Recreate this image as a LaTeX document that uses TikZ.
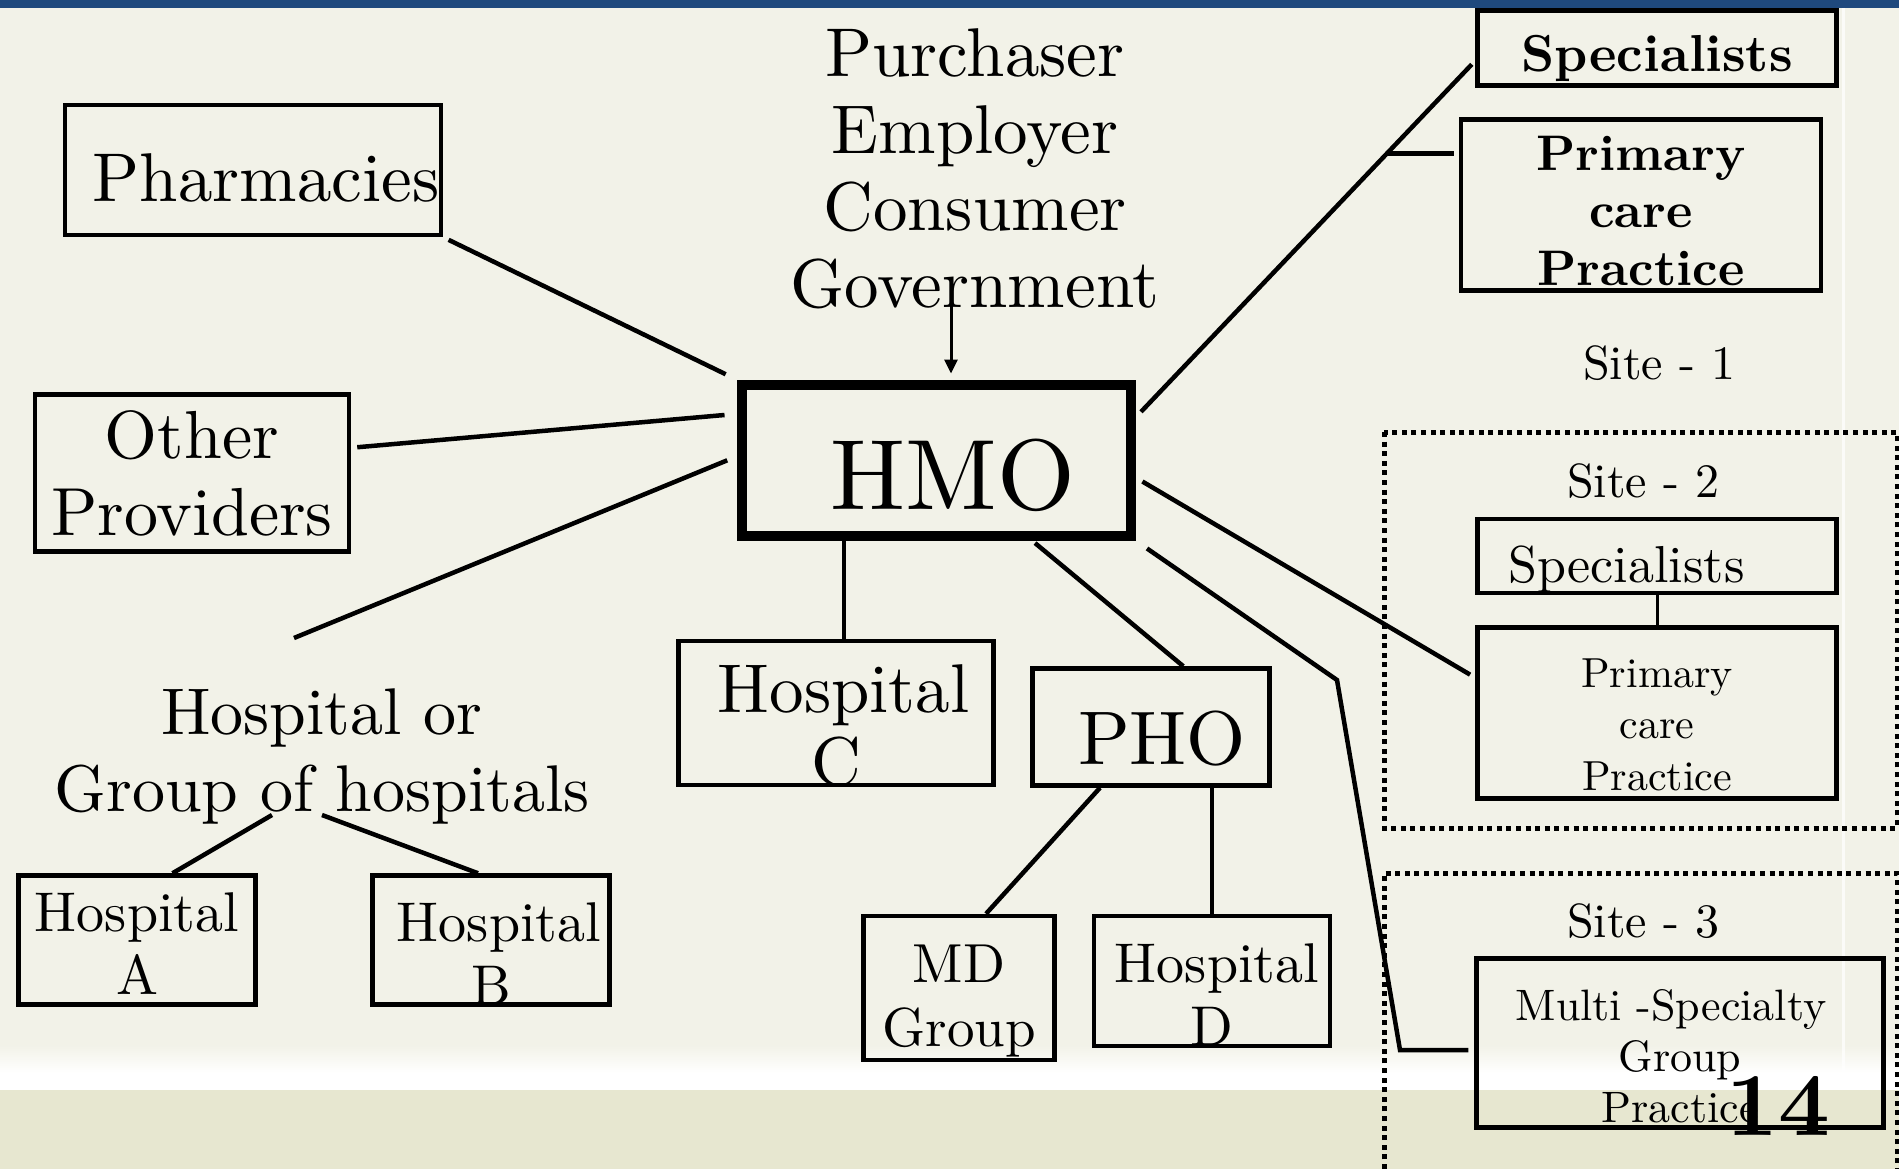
\documentclass[tikz,border=0pt]{standalone}
\usepackage{fontspec}
\setmainfont{lmroman10-regular.otf}[BoldFont=lmroman10-bold.otf]
\usetikzlibrary{shapes,arrows.meta,positioning,calc}

\definecolor{pagebg}{RGB}{242,242,232}
\definecolor{footbg}{RGB}{231,231,208}
\definecolor{topbar}{RGB}{31,73,125}

\begin{document}
\begin{tikzpicture}[
    x=1pt, y=-1pt,
    box/.style={rectangle, draw, line width=4.5pt, inner sep=0pt, align=center},
    txt/.style={inner sep=0pt, align=center},
    base/.style={text height=#1, text depth=0pt},
    link/.style={line width=4.5pt},
    arrow/.style={-{Triangle[length=14pt,width=13pt]}, line width=3pt},
    site/.style={line width=5pt, dash pattern=on 5pt off 4.6pt},
    big/.style={font=\fontsize{69}{77}\selectfont},
    hosp/.style={font=\fontsize{56}{63}\selectfont},
    small/.style={font=\fontsize{44}{51}\selectfont}
]
\useasboundingbox (0,0) rectangle (1899,1169);

% slide background
\fill[pagebg] (0,0) rectangle (1899,1169);
\fill[topbar] (0,0) rectangle (1899,8);
\shade[top color=pagebg, bottom color=white] (0,1045) rectangle (1899,1073);
\fill[white] (0,1073) rectangle (1899,1090);
\fill[footbg] (0,1090) rectangle (1899,1169);
\draw[white, line width=3pt, opacity=0.7] (1843,8) -- (1843,1073);

% centre and buyers
\node[box, line width=10pt, minimum width=389pt, minimum height=151pt, base=98pt, font=\fontsize{100}{110}\selectfont] (hmo) at (936,460) {\hspace*{34pt}HMO};
\node[txt, big] (buyers) at (975,169) {Purchaser\\Employer\\Consumer\\Government};
\draw[arrow, shorten >=6pt] ([xshift=-24pt,yshift=18pt]buyers.south) -- ([xshift=-24pt]buyers.south |- hmo.north);

% left side
\node[box, big, minimum width=376pt, minimum height=130pt, base=64pt] (pharm) at (253,170) {\hspace*{26pt}Pharmacies};
\node[box, font=\fontsize{68}{77}\selectfont, minimum width=314pt, minimum height=157pt] (other) at (192,473) {Other\\Providers};
\node[txt, font=\fontsize{66}{77}\selectfont] (grp) at (322,756) {Hospital or\\Group of hospitals};
\node[box, hosp, minimum width=237pt, minimum height=129pt, base=108pt] (hospa) at (137,940) {Hospital\\A};
\node[box, hosp, minimum width=237pt, minimum height=129pt, base=128pt] (hospb) at (491,940) {\hspace*{16pt}Hospital\\B};
\coordinate (grpend) at (294,638);

\draw[link, shorten <=6pt, shorten >=12pt] (pharm.south east) -- (hmo.north west);
\draw[link, shorten <=6pt, shorten >=12pt] (other.9) -- (hmo.167);
\draw[link, shorten >=10pt] (grpend) -- (hmo.179);
\draw[link] ([xshift=-50pt,yshift=9pt]grp.south) -- (hospa.62);
\draw[link] ([yshift=9pt]grp.south) -- (hospb.101);

% below
\node[box, font=\fontsize{69}{73}\selectfont, minimum width=315pt, minimum height=144pt, base=144pt] (hospc) at (836,713) {\hspace*{15pt}Hospital\\C};
\node[box, font=\fontsize{76}{84}\selectfont, minimum width=237pt, minimum height=117pt, base=74pt] (pho) at (1151,727) {\hspace*{22pt}PHO};
\node[box, font=\fontsize{55}{64}\selectfont, minimum width=191pt, minimum height=144pt, base=116pt] (mdg) at (959,988) {MD\\Group};
\node[box, hosp, minimum width=236pt, minimum height=130pt, base=128pt] (hospd) at (1212,981) {\hspace*{10pt}Hospital\\D};

\draw[link] ([xshift=8pt]hospc.north) -- ([xshift=8pt]hospc.north |- hmo.south);
\draw[link, shorten <=4pt] (hmo.-40) -- (pho.62);
\draw[link] (pho.230) -- (mdg.70);
\draw[link] (hospd.north) -- (hospd.north |- pho.south);

% right side, site 1
\node[box, font=\fontsize{52}{60}\selectfont\bfseries, minimum width=359pt, minimum height=75pt, base=48pt] (spec1) at (1657,48) {Specialists};
\node[box, font=\fontsize{50}{57.5}\selectfont\bfseries, minimum width=360pt, minimum height=171pt, base=160pt] (prim1) at (1641,205) {Primary\\care\\Practice};
\node[txt, font=\fontsize{48}{56}\selectfont, below=53pt of prim1, xshift=18pt] (site1) {Site - 1};

\draw[link, shorten <=8pt, shorten >=5pt] (hmo.12) -- (spec1.184) coordinate[pos=0.74] (fork);
\draw[link, shorten >=5pt] (fork) -- (fork -| prim1.west);

% site 2
\node[box, font=\fontsize{52}{60}\selectfont, text width=297pt, align=left, inner xsep=31pt, minimum height=74pt, base=52pt] (spec2) at (1657,556) {Specialists};
\node[box, font=\fontsize{42}{51.5}\selectfont, minimum width=359pt, minimum height=171pt, base=154pt] (prim2) at (1657,713) {Primary\\care\\Practice};
\node[txt, font=\fontsize{48}{56}\selectfont, above=18pt of spec2, xshift=-14pt] (site2) {Site - 2};
\draw[site] (1384,432) rectangle (1897,828);

\draw[line width=3pt] (spec2) -- (prim2);
\draw[link, shorten <=8pt, shorten >=6pt] (hmo.-5) -- (prim2.169);

% site 3
\node[box, small, minimum width=407pt, minimum height=169pt, base=158pt] (multi) at (1680,1043) {Multi -Specialty\hspace*{18pt}\\Group\\Practice};
\node[txt, font=\fontsize{48}{56}\selectfont] (site3) at (1643,921) {Site - 3};
\draw[site] (1384,1169) -- (1384,873) -- (1897,873) -- (1897,1169);

\coordinate (k1) at (1337,680);
\coordinate (k2) at (1400,1050);
\draw[link, shorten <=14pt, shorten >=6pt] (hmo.south east) -- (k1) -- (k2) -- (k2 -| multi.west);

% slide number
\node[txt, font=\fontsize{90}{100}\selectfont\bfseries] (num) at (1778,1106) {14};

\end{tikzpicture}
\end{document}
